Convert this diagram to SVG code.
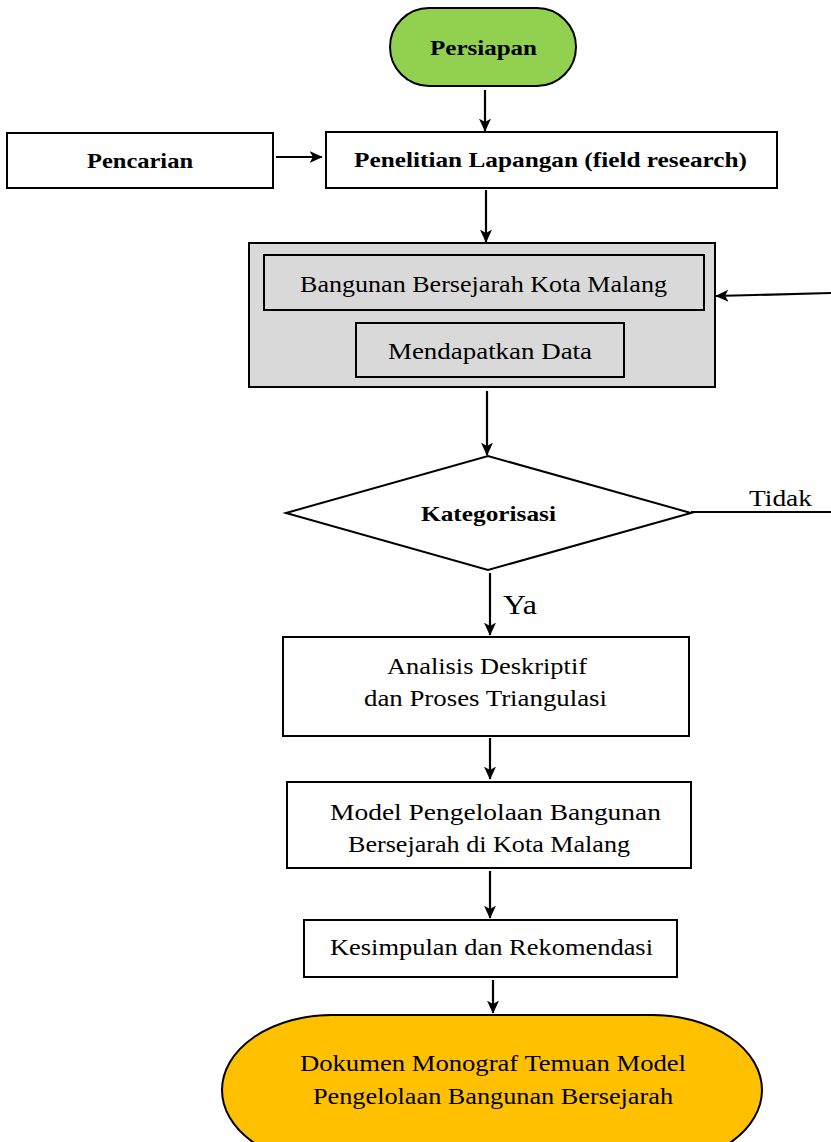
<svg xmlns="http://www.w3.org/2000/svg" width="831" height="1142" viewBox="0 0 831 1142">
<defs>
<marker id="ah" viewBox="0 0 10 10" refX="9.5" refY="5" markerWidth="13" markerHeight="12" markerUnits="userSpaceOnUse" orient="auto" preserveAspectRatio="none">
<path d="M0,0 L10,5 L0,10 L2.5,5 Z" fill="#000"/>
</marker>
<style>
.b{fill:#fff;stroke:#000;stroke-width:2}
.t{font-family:"Liberation Serif","Times New Roman",serif;font-size:23px;fill:#000;text-anchor:middle}
.tb{font-family:"Liberation Serif","Times New Roman",serif;font-size:22px;font-weight:bold;fill:#000;text-anchor:middle}
.c{stroke:#000;stroke-width:2.2;fill:none}
</style>
</defs>
<rect width="831" height="1142" fill="#fff"/>
<g id="persiapan">
<rect x="390" y="8" width="186" height="78" rx="39" ry="39" fill="#92d050" stroke="#000" stroke-width="2"/>
<text class="tb" x="483.5" y="55" textLength="107" lengthAdjust="spacingAndGlyphs">Persiapan</text>
</g>
<g id="pencarian">
<rect class="b" x="7" y="133" width="266" height="55"/>
<text class="tb" x="140" y="168" textLength="106" lengthAdjust="spacingAndGlyphs">Pencarian</text>
</g>
<g id="penelitian">
<rect class="b" x="326" y="132" width="451" height="56"/>
<text class="tb" x="550.5" y="167" textLength="393" lengthAdjust="spacingAndGlyphs">Penelitian Lapangan (field research)</text>
</g>
<g id="data">
<rect x="249" y="243" width="466" height="144" fill="#d9d9d9" stroke="#000" stroke-width="2"/>
<rect x="264" y="255" width="440" height="55" fill="#d9d9d9" stroke="#000" stroke-width="2"/>
<text class="t" x="483.5" y="292" textLength="367" lengthAdjust="spacingAndGlyphs">Bangunan Bersejarah Kota Malang</text>
<rect x="356" y="323" width="268" height="54" fill="#d9d9d9" stroke="#000" stroke-width="2"/>
<text class="t" x="490" y="359" textLength="204" lengthAdjust="spacingAndGlyphs">Mendapatkan Data</text>
</g>
<g id="kategorisasi">
<polygon points="286,513 488,456 691,513 488,570" fill="#fff" stroke="#000" stroke-width="2"/>
<text class="tb" x="488.5" y="521" textLength="135" lengthAdjust="spacingAndGlyphs">Kategorisasi</text>
</g>
<g id="analisis">
<rect class="b" x="283" y="637" width="406" height="99"/>
<text class="t" x="487" y="674" textLength="200" lengthAdjust="spacingAndGlyphs">Analisis Deskriptif</text>
<text class="t" x="485.5" y="706" textLength="243" lengthAdjust="spacingAndGlyphs">dan Proses Triangulasi</text>
</g>
<g id="model">
<rect class="b" x="287" y="782" width="404" height="86"/>
<text class="t" x="495.5" y="820" textLength="331" lengthAdjust="spacingAndGlyphs">Model Pengelolaan Bangunan</text>
<text class="t" x="489" y="852" textLength="282" lengthAdjust="spacingAndGlyphs">Bersejarah di Kota Malang</text>
</g>
<g id="kesimpulan">
<rect class="b" x="304" y="920" width="373" height="57"/>
<text class="t" x="491.5" y="955" textLength="323" lengthAdjust="spacingAndGlyphs">Kesimpulan dan Rekomendasi</text>
</g>
<g id="dokumen">
<rect x="222" y="1015" width="540" height="150" rx="110" ry="75" fill="#ffc000" stroke="#000" stroke-width="2"/>
<text class="t" x="493" y="1071" textLength="386" lengthAdjust="spacingAndGlyphs">Dokumen Monograf Temuan Model</text>
<text class="t" x="493" y="1104" textLength="360" lengthAdjust="spacingAndGlyphs">Pengelolaan Bangunan Bersejarah</text>
</g>
<g id="connectors">
<line class="c" x1="485" y1="90" x2="485" y2="131" marker-end="url(#ah)"/>
<line class="c" x1="276" y1="157" x2="322" y2="157" marker-end="url(#ah)"/>
<line class="c" x1="486" y1="190" x2="486" y2="242" marker-end="url(#ah)"/>
<line class="c" x1="831" y1="293" x2="716" y2="296" marker-end="url(#ah)"/>
<line class="c" x1="487" y1="391" x2="487" y2="455" marker-end="url(#ah)"/>
<line class="c" x1="691" y1="512" x2="831" y2="512" stroke-width="1.5"/>
<text class="t" x="780.5" y="506" textLength="63" lengthAdjust="spacingAndGlyphs">Tidak</text>
<line class="c" x1="490" y1="573" x2="490" y2="635" marker-end="url(#ah)"/>
<text class="t" x="520" y="614" style="font-size:28px" textLength="34" lengthAdjust="spacingAndGlyphs">Ya</text>
<line class="c" x1="490" y1="738" x2="490" y2="779" marker-end="url(#ah)"/>
<line class="c" x1="490" y1="871" x2="490" y2="918" marker-end="url(#ah)"/>
<line class="c" x1="493" y1="980" x2="493" y2="1013" marker-end="url(#ah)"/>
</g>
</svg>
